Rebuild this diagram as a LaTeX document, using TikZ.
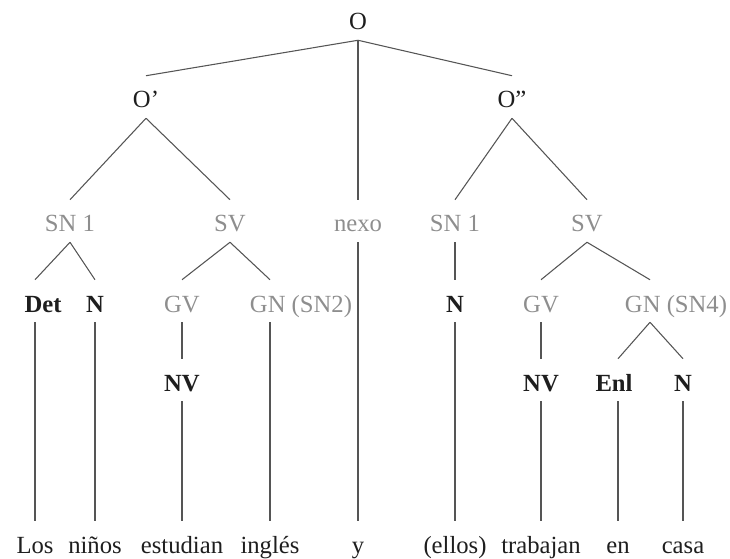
\documentclass[tikz,border=0pt]{standalone}
\usepackage{fontspec}
\setmainfont{Liberation Serif}
\definecolor{ink}{HTML}{1E1E1E}
\definecolor{soft}{HTML}{8E8E8E}
\definecolor{wire}{HTML}{555555}
\begin{document}
\begin{tikzpicture}[x=0.75pt,y=-0.75pt,
  lab/.style={anchor=base, inner xsep=0pt, inner ysep=7.5pt, text height=16.5pt, text depth=0pt,
              font=\fontsize{18.5}{21}\selectfont, text=ink},
  hard/.style={lab, font=\fontsize{18.5}{21}\selectfont\bfseries},
  grey/.style={lab, text=soft},
  wire/.style={draw=wire, line width=0.8pt}]
\useasboundingbox (0,0) rectangle (730,559);
% level 0 and 1
\node[lab] (o) at (358,30) {O};
\node[lab] (op) at (146,108) {O’};
\node[lab] (opp) at (512,108) {O”};
% level 2
\node[grey] (sna) at (70,232) {SN 1};
\node[grey] (sva) at (230,232) {SV};
\node[grey] (nexo) at (358,232) {nexo};
\node[grey] (snb) at (455,232) {SN 1};
\node[grey] (svb) at (587,232) {SV};
% level 3
\node[hard] (det) at (43,312) {Det};
\node[hard] (na) at (95,312) {N};
\node[grey] (gva) at (182,312) {GV};
\node[grey] (gna) at (301,312) {GN (SN2)};
\node[hard] (nb) at (455,312) {N};
\node[grey] (gvb) at (541,312) {GV};
\node[grey] (gnb) at (676,312) {GN (SN4)};
\coordinate (gnbtop) at (650,0);
% level 4
\node[hard] (nva) at (182,391) {NV};
\node[hard] (nvb) at (541,391) {NV};
\node[hard] (enl) at (614,391) {Enl};
\node[hard] (nc) at (683,391) {N};
% words
\node[lab] (w1) at (35,553) {Los};
\node[lab] (w2) at (95,553) {niños};
\node[lab] (w3) at (182,553) {estudian};
\node[lab] (w4) at (270,553) {inglés};
\node[lab] (w5) at (358,553) {y};
\node[lab] (w6) at (455,553) {(ellos)};
\node[lab] (w7) at (541,553) {trabajan};
\node[lab] (w8) at (618,553) {en};
\node[lab] (w9) at (683,553) {casa};
% connectors
\draw[wire] (o.south) -- (op.north);
\draw[wire] (o.south) -- (opp.north);
\draw[wire] (o.south) -- (nexo.north);
\draw[wire] (op.south) -- (sna.north);
\draw[wire] (op.south) -- (sva.north);
\draw[wire] (opp.south) -- (snb.north);
\draw[wire] (opp.south) -- (svb.north);
\draw[wire] (sna.south) -- (det.north -| w1.north);
\draw[wire] (sna.south) -- (na.north);
\draw[wire] (sva.south) -- (gva.north);
\draw[wire] (sva.south) -- (gna.north -| w4.north);
\draw[wire] (snb.south) -- (nb.north);
\draw[wire] (svb.south) -- (gvb.north);
\draw[wire] (svb.south) -- (gnb.north -| gnbtop);
\draw[wire] (gva.south) -- (nva.north);
\draw[wire] (gvb.south) -- (nvb.north);
\draw[wire] (gnb.south -| gnbtop) -- (enl.north -| w8.north);
\draw[wire] (gnb.south -| gnbtop) -- (nc.north);
\draw[wire] (det.south -| w1.north) -- (w1.north);
\draw[wire] (na.south) -- (w2.north);
\draw[wire] (nva.south) -- (w3.north);
\draw[wire] (gna.south -| w4.north) -- (w4.north);
\draw[wire] (nexo.south) -- (w5.north);
\draw[wire] (nb.south) -- (w6.north);
\draw[wire] (nvb.south) -- (w7.north);
\draw[wire] (enl.south -| w8.north) -- (w8.north);
\draw[wire] (nc.south) -- (w9.north);
\end{tikzpicture}
\end{document}
